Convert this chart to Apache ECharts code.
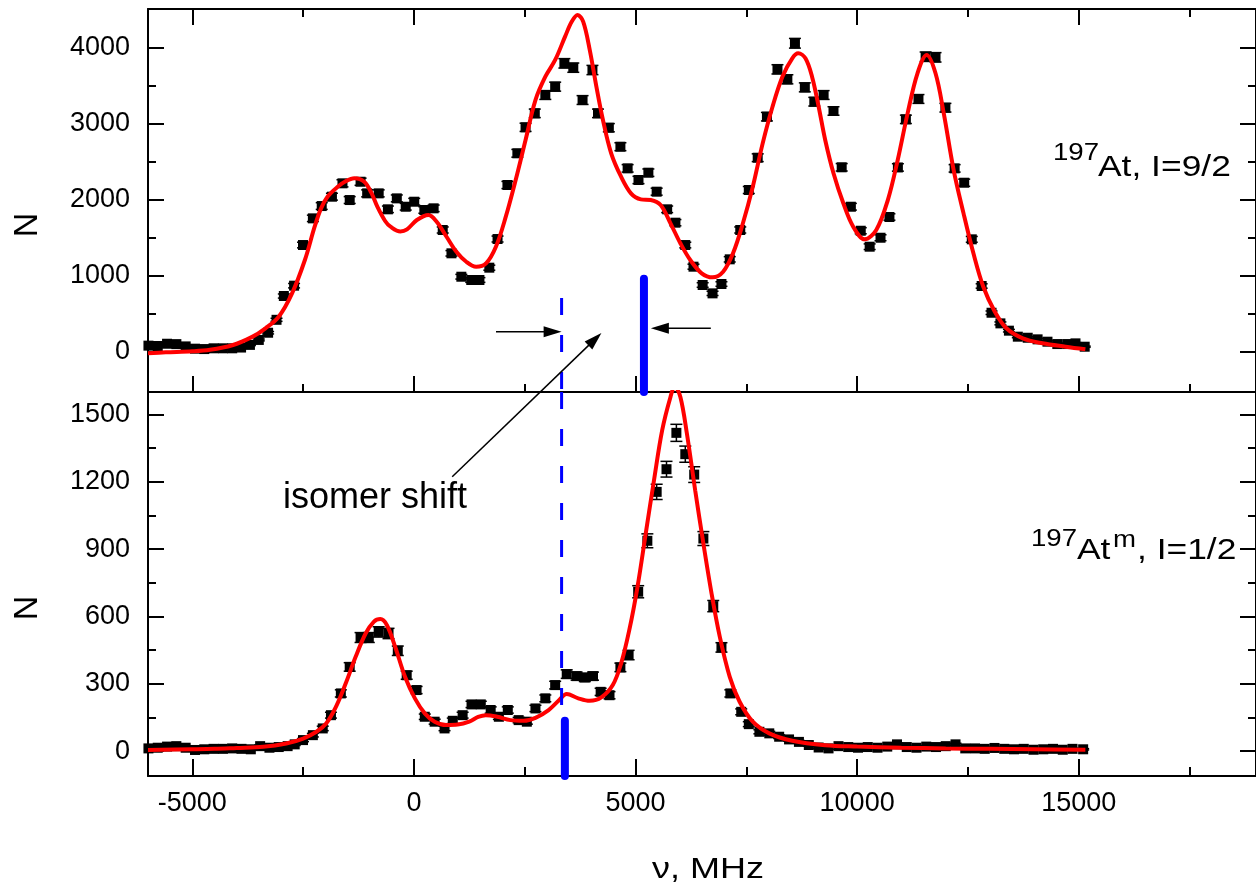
<!DOCTYPE html>
<html><head><meta charset="utf-8">
<script src="https://cdn.jsdelivr.net/npm/echarts@6/dist/echarts.min.js"></script>
<style>html,body{margin:0;padding:0;background:#fff}#c{width:1256px;height:888px}</style>
</head><body><div id="c"></div>
<script>
// ---------- axis ranges & ticks ----------
const X_MIN = -6000, X_MAX = 19000;
const TOP_Y_MIN = -530, TOP_Y_MAX = 4510;
const BOT_Y_MIN = -111, BOT_Y_MAX = 1600;
const xMajorTicks = [-5000, 0, 5000, 10000, 15000];
const xMinorTicks = [-2500, 2500, 7500, 12500, 17500];
const topYMajorTicks = [0, 1000, 2000, 3000, 4000];
const topYMinorTicks = [500, 1500, 2500, 3500];
const botYMajorTicks = [0, 300, 600, 900, 1200, 1500];
const botYMinorTicks = [150, 450, 750, 1050, 1350];

// ---------- data: [nu (MHz), N, error] ----------
const topData = [
[-5990,80,9],[-5780,75,9],[-5570,105,10],[-5360,100,10],[-5150,70,8],[-4940,40,6],[-4730,35,6],
[-4520,45,7],[-4310,45,7],[-4100,45,7],[-3900,55,7],[-3700,90,9],[-3500,155,12],[-3290,250,16],
[-3100,420,20],[-2935,733,27],[-2704,869,29],[-2503,1404,37],[-2280,1755,42],[-2080,1917,44],
[-1850,2040,45],[-1612,2216,47],[-1449,1996,45],[-1204,2237,47],[-1055,2084,46],[-795,2084,46],
[-587,1874,43],[-386,2018,45],[-185,1908,44],[7,1974,44],[235,1865,43],[445,1887,43],[650,1602,40],
[847,1295,36],[1070,987,31],[1293,944,31],[1478,944,31],[1701,1106,33],[1887,1483,39],[2110,2194,47],
[2334,2611,51],[2519,2953,54],[2727,3137,56],[2965,3378,58],[3187,3488,59],[3395,3795,62],
[3596,3738,61],[3805,3312,58],[4028,3707,61],[4153,3137,56],[4398,2948,54],[4659,2698,52],
[4822,2413,49],[5067,2260,48],[5290,2356,49],[5477,2106,46],[5714,1874,43],[5900,1698,41],
[6123,1404,37],[6308,1119,33],[6515,878,30],[6738,768,28],[6939,891,30],[7126,1216,35],
[7363,1602,40],[7556,2128,46],[7757,2553,51],[7965,3093,56],[8203,3716,61],[8426,3585,60],
[8597,4059,64],[8820,3479,59],[9034,3290,57],[9244,3378,58],[9467,3168,56],[9652,2427,49],
[9859,1908,44],[10082,1592,40],[10283,1382,37],[10528,1500,39],[10729,1773,42],[10920,2425,49],
[11100,3058,55],[11384,3326,58],[11546,3882,62],[11769,3874,62],[11992,3211,57],[12200,2413,49],
[12416,2224,47],[12587,1479,38],[12810,865,29],[13033,513,23],[13233,373,19],[13425,277,17],
[13626,198,14],[13849,184,14],[14072,163,13],[14295,132,11],[14517,101,10],[14740,101,10],
[14927,110,10],[15135,66,8]
];
const topFit = [
[-6000,-20],[-5600,-8],[-5000,5],[-4600,25],[-4100,85],[-3650,195],[-3350,308],[-3050,461],
[-2750,768],[-2460,1207],[-2240,1645],[-2100,1880],[-1950,2040],[-1720,2170],[-1550,2240],
[-1344,2282],[-1121,2237],[-960,2090],[-825,1908],[-650,1720],[-528,1645],[-305,1582],[-156,1610],
[67,1733],[327,1799],[513,1711],[736,1513],[958,1316],[1181,1184],[1404,1119],[1627,1163],
[1850,1382],[2073,1777],[2296,2260],[2519,2786],[2742,3312],[2965,3619],[3187,3839],[3410,4146],
[3559,4343],[3693,4431],[3819,4343],[3968,3970],[4117,3488],[4265,3049],[4451,2611],[4674,2303],
[4897,2084],[5120,2005],[5343,1996],[5566,1931],[5789,1690],[6012,1427],[6235,1207],[6493,1032],
[6738,979],[6977,1053],[7200,1295],[7423,1690],[7646,2171],[7869,2742],[8091,3224],[8314,3619],
[8537,3861],[8671,3927],[8834,3861],[8983,3619],[9132,3224],[9280,2786],[9467,2348],[9689,1953],
[9912,1645],[10171,1479],[10432,1602],[10693,1996],[10916,2523],[11139,3137],[11362,3664],
[11569,3905],[11769,3664],[11955,3137],[12178,2391],[12401,1821],[12624,1295],[12847,855],
[13107,526],[13368,308],[13739,176],[14183,111],[14704,66],[15150,32]
];
const botData = [
[-5990,12,4],[-5780,15,4],[-5570,20,4],[-5360,22,5],[-5150,15,4],[-4940,5,3],[-4730,8,3],
[-4520,10,3],[-4310,10,3],[-4100,12,4],[-3890,10,3],[-3680,8,3],[-3470,22,5],[-3260,15,4],
[-3050,18,4],[-2850,22,5],[-2690,30,5],[-2503,49,7],[-2280,71,8],[-2057,101,10],[-1872,160,13],
[-1649,257,16],[-1449,375,19],[-1204,506,22],[-1018,506,22],[-795,531,23],[-573,524,23],
[-364,447,21],[-163,338,18],[60,272,16],[245,153,12],[468,131,11],[691,101,10],[877,135,12],
[1099,160,13],[1300,208,14],[1509,208,14],[1732,183,14],[1917,153,12],[2118,183,14],[2363,138,12],
[2548,131,11],[2742,190,14],[2965,235,15],[3187,294,17],[3448,343,19],[3671,334,18],[3856,328,18],
[4041,334,18],[4213,264,16],[4413,249,16],[4659,373,19],[4844,428,21],[5060,710,27],[5267,937,31],
[5477,1155,34],[5699,1256,35],[5922,1418,38],[6123,1323,36],[6324,1232,35],[6531,947,31],
[6754,646,25],[6939,462,21],[7140,257,16],[7385,175,13],[7556,120,11],[7795,86,9],[8018,79,9],
[8241,64,8],[8464,52,7],[8687,41,6],[8910,27,5],[9132,16,4],[9355,12,4],[9580,22,5],[9800,18,4],
[10020,15,4],[10240,18,4],[10460,15,4],[10680,20,4],[10900,30,5],[11120,18,4],[11340,15,4],
[11560,20,4],[11780,18,4],[12000,22,5],[12220,30,5],[12440,12,4],[12660,12,4],[12880,10,3],
[13100,14,4],[13320,10,3],[13540,8,3],[13760,10,3],[13980,6,3],[14200,8,3],[14420,10,3],
[14640,6,3],[14860,10,3],[15100,8,3]
];
const botFit = [
[-6000,5],[-5000,8],[-4500,10],[-4000,14],[-3400,19],[-2880,34],[-2500,56],[-2200,86],[-1980,123],
[-1760,197],[-1540,301],[-1315,420],[-1090,524],[-907,576],[-758,588],[-609,561],[-424,465],
[-201,331],[22,235],[245,168],[468,131],[728,116],[988,118],[1248,131],[1450,152],[1620,160],
[1880,153],[2177,138],[2474,135],[2742,148],[3039,183],[3262,224],[3448,254],[3707,235],[3968,224],
[4228,239],[4487,294],[4674,390],[4859,539],[5045,732],[5231,970],[5417,1207],[5602,1430],
[5789,1578],[5885,1625],[6012,1578],[6159,1415],[6346,1162],[6531,925],[6716,702],[6902,509],
[7126,331],[7349,220],[7646,131],[8018,79],[8537,46],[9280,26],[10000,20],[11000,15],[12000,12],
[13000,10],[14000,8],[15150,6]
];
// blue markers (data coordinates)
const topDashed = [[3332,706],[3332,-530]];
const topBar = [[5190,960],[5190,-530]];
const botDashed = [[3332,1600],[3332,150]];
const botBar = [[3406,135],[3406,-111]];
// arrows: [gridIndex, nu, N]
const arrowRight = {from:[0,1852,263], to:[0,3332,263]};
const arrowLeft = {from:[0,6699,308], to:[0,5346,308]};
const arrowShift = {from:[1,864,1222], to:[0,4231,246]};

// ---------- chart ----------
const FONT = '"Liberation Sans", Arial, sans-serif';
const chart = echarts.init(document.getElementById('c'), null, {renderer:'canvas'});
const GRID_LEFT = 148, GRID_W = 1121.5;
const plain = v => String(v);

function xAx(g, pos, ticks, len, labels, showLine) {
  return {
    type:'value', gridIndex:g, position:pos, min:X_MIN, max:X_MAX,
    axisLine:{show:showLine, onZero:false, lineStyle:{color:'#000', width:2}},
    axisTick:{show:ticks.length>0, inside:true, length:len, customValues:ticks, lineStyle:{color:'#000', width:2}},
    axisLabel:{show:labels, customValues:ticks, formatter:plain, color:'#000', fontSize:27, fontFamily:FONT, margin:14},
    splitLine:{show:false}
  };
}
function yAx(g, pos, min, max, ticks, len, labels, showLine) {
  return {
    type:'value', gridIndex:g, position:pos, min:min, max:max,
    axisLine:{show:showLine, onZero:false, lineStyle:{color:'#000', width:2}},
    axisTick:{show:ticks.length>0, inside:true, length:len, customValues:ticks, lineStyle:{color:'#000', width:2}},
    axisLabel:{show:labels, customValues:ticks, formatter:plain, color:'#000', fontSize:27, fontFamily:FONT, margin:18},
    splitLine:{show:false}
  };
}

const xAxes = [
  xAx(0,'bottom',xMajorTicks,16,false,true), xAx(0,'bottom',xMinorTicks,8,false,false),
  xAx(0,'top',xMajorTicks,16,false,true), xAx(0,'top',xMinorTicks,8,false,false),
  xAx(1,'bottom',xMajorTicks,17,true,true), xAx(1,'bottom',xMinorTicks,9,false,false),
  xAx(1,'top',[],0,false,true), xAx(1,'top',[],0,false,false)
];
const yAxes = [
  yAx(0,'left',TOP_Y_MIN,TOP_Y_MAX,topYMajorTicks,16,true,true), yAx(0,'left',TOP_Y_MIN,TOP_Y_MAX,topYMinorTicks,8,false,false),
  yAx(0,'right',TOP_Y_MIN,TOP_Y_MAX,topYMajorTicks,16,false,true), yAx(0,'right',TOP_Y_MIN,TOP_Y_MAX,topYMinorTicks,8,false,false),
  yAx(1,'left',BOT_Y_MIN,BOT_Y_MAX,botYMajorTicks,16,true,true), yAx(1,'left',BOT_Y_MIN,BOT_Y_MAX,botYMinorTicks,8,false,false),
  yAx(1,'right',BOT_Y_MIN,BOT_Y_MAX,botYMajorTicks,16,false,true), yAx(1,'right',BOT_Y_MIN,BOT_Y_MAX,botYMinorTicks,8,false,false)
];

function errRender(params, api) {
  const x = api.value(0), y = api.value(1), e = api.value(2);
  const t = api.coord([x, y + e]), b = api.coord([x, y - e]);
  const hw = 6, st = {stroke:'#000', lineWidth:1.5};
  return {type:'group', children:[
    {type:'line', shape:{x1:t[0], y1:t[1], x2:b[0], y2:b[1]}, style:st},
    {type:'line', shape:{x1:t[0]-hw, y1:t[1], x2:t[0]+hw, y2:t[1]}, style:st},
    {type:'line', shape:{x1:b[0]-hw, y1:b[1], x2:b[0]+hw, y2:b[1]}, style:st}
  ]};
}

function panelSeries(g, data, fit, dashed, bar) {
  const ax = {xAxisIndex:g*4, yAxisIndex:g*4};
  return [
    Object.assign({type:'custom', data:data, renderItem:errRender, clip:true, z:2, silent:true}, ax),
    Object.assign({type:'scatter', data:data.map(d => [d[0], d[1]]), symbol:'rect', symbolSize:10,
      itemStyle:{color:'#000', opacity:1}, z:3, silent:true}, ax),
    Object.assign({type:'line', data:fit, showSymbol:false, smooth:0.35, clip:true,
      lineStyle:{color:'#ff0000', width:4}, z:4, silent:true}, ax),
    Object.assign({type:'line', data:dashed, showSymbol:false, clip:true,
      lineStyle:{color:'#0000ff', width:3, type:[17,20]}, z:5, silent:true}, ax),
    Object.assign({type:'line', data:bar, showSymbol:false, clip:true,
      lineStyle:{color:'#0000ff', width:8, cap:'round'}, z:5, silent:true}, ax)
  ];
}

chart.setOption({
  animation:false,
  backgroundColor:'#fff',
  grid:[
    {left:GRID_LEFT, top:9, width:GRID_W, height:383},
    {left:GRID_LEFT, top:392, width:GRID_W, height:384}
  ],
  xAxis: xAxes,
  yAxis: yAxes,
  series: panelSeries(0, topData, topFit, topDashed, topBar)
          .concat(panelSeries(1, botData, botFit, botDashed, botBar))
});

function px(p) {
  return chart.convertToPixel({xAxisIndex:p[0]*4, yAxisIndex:p[0]*4}, [p[1], p[2]]);
}
function arrow(a) {
  const p0 = px(a.from), p1 = px(a.to);
  const dx = p1[0]-p0[0], dy = p1[1]-p0[1], L = Math.hypot(dx, dy), ux = dx/L, uy = dy/L;
  const hl = 18, hw = 5.5, bx = p1[0]-ux*hl, by = p1[1]-uy*hl;
  return [
    {type:'line', z:10, shape:{x1:p0[0], y1:p0[1], x2:bx+ux*2, y2:by+uy*2}, style:{stroke:'#000', lineWidth:1.5}},
    {type:'polygon', z:10, shape:{points:[[p1[0],p1[1]],[bx-uy*hw,by+ux*hw],[bx+uy*hw,by-ux*hw]]}, style:{fill:'#000'}}
  ];
}
function txt(x, y, s, size, opts) {
  return Object.assign({type:'text', z:10, x:x, y:y,
    style:{text:s, fill:'#000', font: size + 'px ' + FONT, align:'left', verticalAlign:'middle'}}, opts || {});
}

const graphics = []
  .concat(arrow(arrowRight), arrow(arrowLeft), arrow(arrowShift))
  .concat([
    txt(28, 225, 'N', 34, {rotation:Math.PI/2, style:{text:'N', fill:'#000', font:'34px '+FONT, align:'center', verticalAlign:'middle'}}),
    txt(28, 608, 'N', 34, {rotation:Math.PI/2, style:{text:'N', fill:'#000', font:'34px '+FONT, align:'center', verticalAlign:'middle'}}),
    txt(652, 870, 'ν, MHz', 30, {scaleX:1.2}),
    txt(283, 498, 'isomer shift', 36),
    txt(1053, 153, '197', 24, {scaleX:1.15}),
    txt(1098, 168, 'At, I=9/2', 30, {scaleX:1.18}),
    txt(1031, 539, '197', 24, {scaleX:1.15}),
    txt(1077, 551, 'At', 30, {scaleX:1.18}),
    txt(1113, 540, 'm', 24, {scaleX:1.15}),
    txt(1137, 551, ', I=1/2', 30, {scaleX:1.18})
  ]);
chart.setOption({graphic: graphics});
</script></body></html>
